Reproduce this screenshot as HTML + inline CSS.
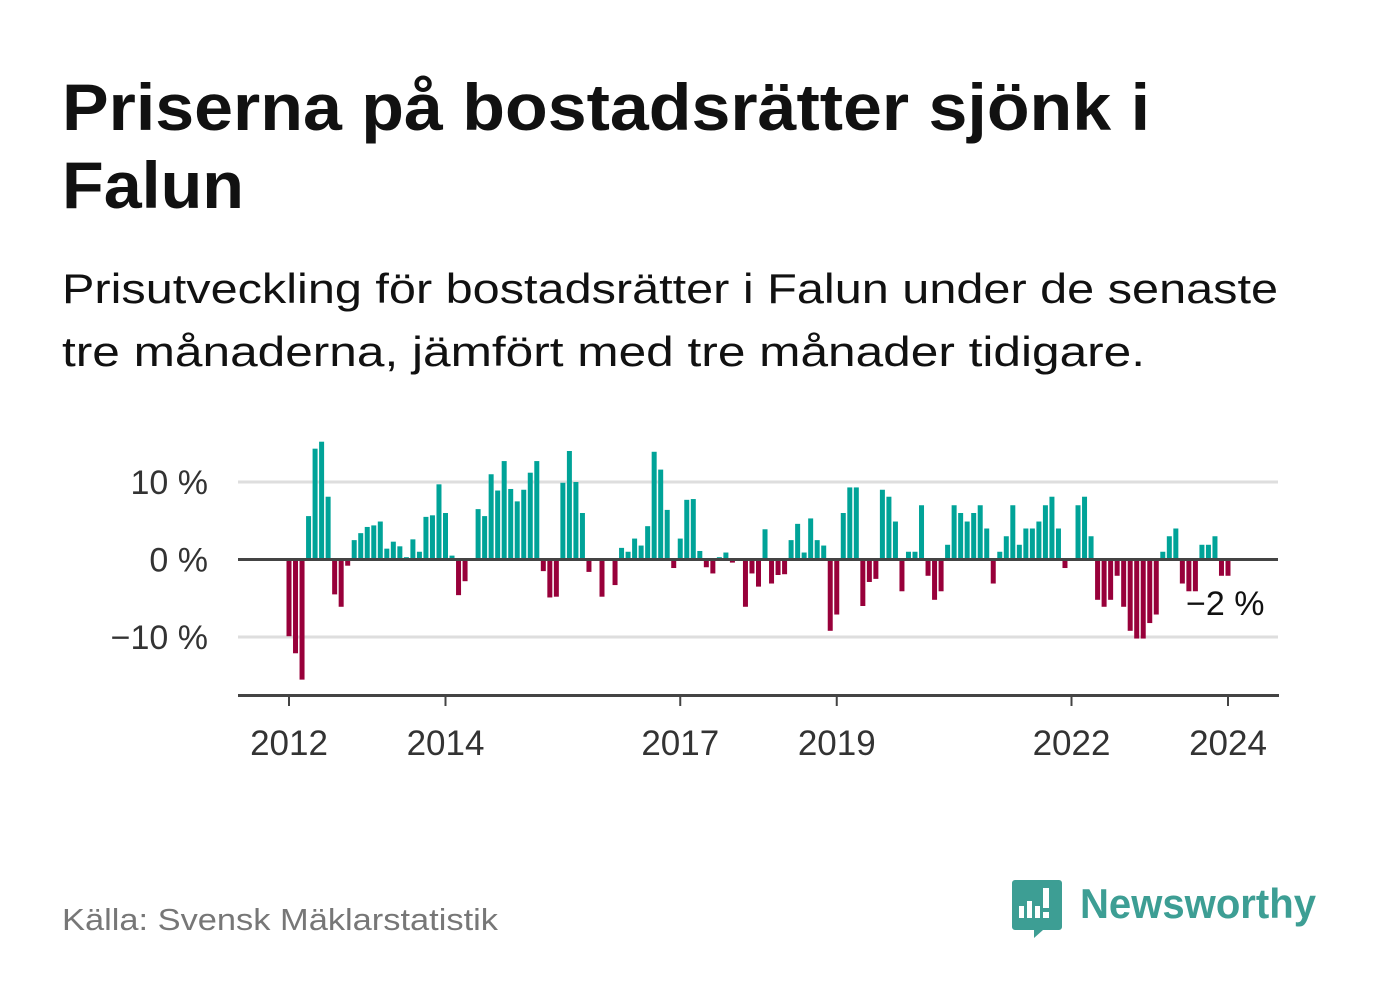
<!DOCTYPE html>
<html><head><meta charset="utf-8">
<style>
html,body{margin:0;padding:0;background:#fff;}
svg{display:block;font-family:"Liberation Sans",sans-serif;}
</style></head>
<body>
<svg id="chart" width="1382" height="999" viewBox="0 0 1382 999">
<text x="62" y="130" font-size="66" font-weight="bold" fill="#111" textLength="1088" lengthAdjust="spacingAndGlyphs">Priserna på bostadsrätter sjönk i</text>
<text x="62" y="208" font-size="66" font-weight="bold" fill="#111" textLength="182" lengthAdjust="spacingAndGlyphs">Falun</text>
<text x="62" y="303" font-size="42" fill="#111" textLength="1216" lengthAdjust="spacingAndGlyphs">Prisutveckling för bostadsrätter i Falun under de senaste</text>
<text x="62" y="366" font-size="42" fill="#111" textLength="1083" lengthAdjust="spacingAndGlyphs">tre månaderna, jämfört med tre månader tidigare.</text>
<g id="grid"></g>
<g id="bars"></g>
<g id="axes"></g>
<text x="1186" y="615" font-size="34" fill="#111">−2 %</text>
<text x="62" y="930" font-size="31" fill="#777" textLength="436" lengthAdjust="spacingAndGlyphs">Källa: Svensk Mäklarstatistik</text>
<g>
<path d="M1015 880 h44 a3 3 0 0 1 3 3 v44 a3 3 0 0 1 -3 3 h-16 l-9 8 v-8 h-19 a3 3 0 0 1 -3 -3 v-44 a3 3 0 0 1 3 -3z" fill="#3d9e94"/>
<rect x="1019" y="906" width="5" height="12" fill="#fff"/>
<rect x="1027" y="901" width="5" height="17" fill="#fff"/>
<rect x="1035" y="906" width="5" height="12" fill="#fff"/>
<rect x="1043" y="888" width="6" height="20" fill="#fff"/>
<rect x="1043" y="912" width="6" height="6" fill="#fff"/>
<text x="1080" y="918" font-size="42" font-weight="bold" fill="#3d9e94" textLength="236" lengthAdjust="spacingAndGlyphs">Newsworthy</text>
</g>
</svg>
<script>
const values = [-9.9,-12.1,-15.5,5.6,14.3,15.2,8.1,-4.5,-6.1,-0.8,2.5,3.4,4.2,4.4,4.9,1.4,2.3,1.7,0.3,2.6,1.0,5.5,5.7,9.7,6.0,0.5,-4.6,-2.8,0,6.5,5.6,11.0,8.9,12.7,9.1,7.5,9.0,11.2,12.7,-1.5,-4.9,-4.8,9.9,14.0,10.0,6.0,-1.6,0,-4.8,0,-3.3,1.5,1.0,2.7,1.8,4.3,13.9,11.6,6.4,-1.1,2.7,7.7,7.8,1.1,-1.0,-1.8,0.3,0.9,-0.4,0,-6.1,-1.8,-3.5,3.9,-3.1,-2.0,-1.9,2.5,4.6,0.9,5.3,2.5,1.8,-9.2,-7.1,6.0,9.3,9.3,-6.0,-2.9,-2.5,9.0,8.1,4.9,-4.1,1.0,1.0,7.0,-2.1,-5.2,-4.1,1.9,7.0,6.0,4.9,6.0,7.0,4.0,-3.1,1.0,3.0,7.0,1.9,4.0,4.0,4.9,7.0,8.1,4.0,-1.1,0,7.0,8.1,3.0,-5.2,-6.1,-5.2,-2.1,-6.1,-9.2,-10.2,-10.2,-8.2,-7.1,1.0,3.0,4.0,-3.1,-4.1,-4.1,1.9,1.9,3.0,-2.1,-2.1];
const startYear = 2012;
const yTicks = [10, 0, -10];
const yTickLabels = ["10 %", "0 %", "−10 %"];
const xTicks = [2012, 2014, 2017, 2019, 2022, 2024];

const NS = "http://www.w3.org/2000/svg";
const X0 = 289, PXY = 78.25;
function x(monthIndex){ return X0 + monthIndex * PXY / 12; }
function xYear(yr){ return X0 + (yr - startYear) * PXY; }
function y(v){ return 559.5 - v * 7.75; }
function mk(tag, attrs, parent){ const e=document.createElementNS(NS,tag); for(const k in attrs) e.setAttribute(k, attrs[k]); parent.appendChild(e); return e; }

const grid=document.getElementById('grid'), bars=document.getElementById('bars'), axes=document.getElementById('axes');
yTicks.forEach((t,i)=>{
  if(t!==0){
    const l=mk('line',{x1:238,x2:1278,y1:y(t),y2:y(t),stroke:'#dedede','stroke-width':3},grid);
    
    
  }
  const tx=mk('text',{x:208,y:y(t)+12,'font-size':34,fill:'#333','text-anchor':'end'},axes);
  tx.textContent=yTickLabels[i];
  
  
});
values.forEach((v,i)=>{
  if(v===0) return;
  const top=Math.min(y(v),y(0)), h=Math.abs(y(v)-y(0));
  const r=mk('rect',{x:x(i)-2.5,y:top,width:5,height:h,fill:v>0?'#00a398':'#98003a'},bars);
  
  
});
const zl=mk('line',{x1:238,x2:1278,y1:y(0),y2:y(0),stroke:'#444','stroke-width':3},axes);


const xl=mk('line',{x1:238,x2:1279,y1:695.5,y2:695.5,stroke:'#444','stroke-width':3},axes);


xTicks.forEach(yr=>{
  const tk=mk('line',{x1:xYear(yr),x2:xYear(yr),y1:695,y2:706,stroke:'#444','stroke-width':2},axes);
  
  
  const t=mk('text',{x:xYear(yr),y:755,'font-size':35,fill:'#333','text-anchor':'middle'},axes);
  t.textContent=yr;
  
  
});
</script>
</body></html>
